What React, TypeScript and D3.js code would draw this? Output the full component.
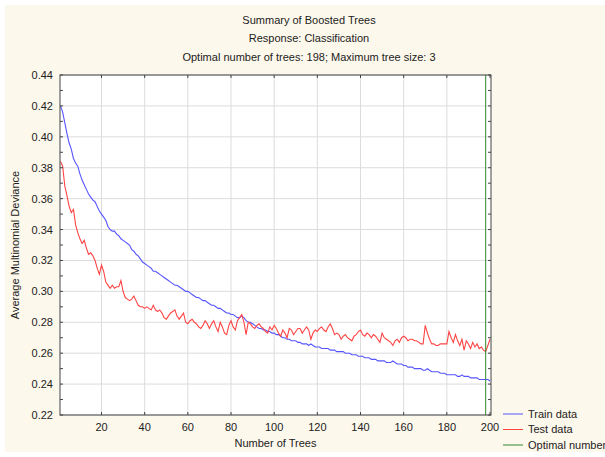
import React from 'react';
import * as d3 from 'd3';

// Average multinomial deviance per number of trees (1..200)
const trainData = [
  0.420, 0.416, 0.409, 0.402, 0.396, 0.392, 0.386, 0.383, 0.381, 0.376,
  0.372, 0.369, 0.366, 0.363, 0.361, 0.359, 0.358, 0.355, 0.352, 0.350,
  0.348, 0.346, 0.342, 0.340, 0.339, 0.339, 0.337, 0.336, 0.334, 0.333,
  0.332, 0.331, 0.330, 0.327, 0.326, 0.324, 0.323, 0.321, 0.319, 0.318,
  0.317, 0.316, 0.315, 0.313, 0.313, 0.312, 0.311, 0.310, 0.309, 0.308,
  0.307, 0.306, 0.305, 0.304, 0.304, 0.303, 0.302, 0.301, 0.300, 0.300,
  0.299, 0.298, 0.297, 0.296, 0.296, 0.295, 0.294, 0.294, 0.293, 0.292,
  0.291, 0.291, 0.290, 0.289, 0.289, 0.288, 0.287, 0.286, 0.286, 0.285,
  0.285, 0.284, 0.283, 0.283, 0.284, 0.283, 0.281, 0.280, 0.280, 0.279,
  0.278, 0.277, 0.276, 0.276, 0.275, 0.275, 0.274, 0.274, 0.273, 0.273,
  0.272, 0.272, 0.271, 0.270, 0.270, 0.269, 0.269, 0.268, 0.268, 0.268,
  0.267, 0.267, 0.266, 0.266, 0.266, 0.265, 0.266, 0.265, 0.264, 0.264,
  0.264, 0.263, 0.263, 0.263, 0.263, 0.262, 0.262, 0.262, 0.261, 0.261,
  0.261, 0.261, 0.260, 0.260, 0.260, 0.259, 0.259, 0.259, 0.258, 0.258,
  0.258, 0.257, 0.257, 0.257, 0.256, 0.256, 0.256, 0.255, 0.255, 0.255,
  0.255, 0.254, 0.254, 0.254, 0.255, 0.254, 0.253, 0.253, 0.253, 0.252,
  0.252, 0.251, 0.251, 0.251, 0.250, 0.250, 0.250, 0.250, 0.249, 0.249,
  0.250, 0.249, 0.248, 0.248, 0.248, 0.248, 0.247, 0.247, 0.247, 0.246,
  0.246, 0.246, 0.246, 0.246, 0.245, 0.245, 0.246, 0.245, 0.245, 0.245,
  0.244, 0.244, 0.244, 0.244, 0.243, 0.243, 0.243, 0.243, 0.243, 0.242,
];

const testData = [
  0.384, 0.381, 0.368, 0.362, 0.355, 0.351, 0.353, 0.343, 0.338, 0.334,
  0.331, 0.333, 0.328, 0.324, 0.325, 0.323, 0.320, 0.315, 0.311, 0.317,
  0.313, 0.306, 0.304, 0.302, 0.304, 0.302, 0.303, 0.303, 0.307, 0.300,
  0.296, 0.295, 0.294, 0.295, 0.297, 0.294, 0.291, 0.290, 0.290, 0.289,
  0.290, 0.289, 0.288, 0.291, 0.288, 0.287, 0.288, 0.286, 0.283, 0.282,
  0.284, 0.286, 0.287, 0.288, 0.284, 0.282, 0.284, 0.286, 0.280, 0.279,
  0.281, 0.282, 0.280, 0.279, 0.277, 0.276, 0.278, 0.281, 0.279, 0.276,
  0.279, 0.281, 0.277, 0.274, 0.280, 0.277, 0.273, 0.272, 0.278, 0.281,
  0.277, 0.275, 0.281, 0.283, 0.285, 0.280, 0.272, 0.280, 0.279, 0.277,
  0.276, 0.278, 0.279, 0.277, 0.276, 0.274, 0.273, 0.277, 0.275, 0.278,
  0.276, 0.273, 0.271, 0.275, 0.273, 0.270, 0.276, 0.275, 0.272, 0.274,
  0.276, 0.276, 0.273, 0.275, 0.277, 0.275, 0.269, 0.273, 0.275, 0.274,
  0.276, 0.277, 0.275, 0.274, 0.277, 0.279, 0.276, 0.272, 0.273, 0.272,
  0.269, 0.271, 0.272, 0.270, 0.269, 0.268, 0.271, 0.272, 0.274, 0.275,
  0.272, 0.271, 0.273, 0.272, 0.270, 0.272, 0.271, 0.269, 0.267, 0.273,
  0.270, 0.269, 0.268, 0.267, 0.265, 0.268, 0.269, 0.267, 0.270, 0.271,
  0.270, 0.268, 0.269, 0.269, 0.268, 0.268, 0.267, 0.266, 0.266, 0.278,
  0.273, 0.269, 0.266, 0.266, 0.265, 0.265, 0.266, 0.266, 0.266, 0.266,
  0.274, 0.270, 0.267, 0.272, 0.268, 0.265, 0.269, 0.262, 0.268, 0.266,
  0.263, 0.267, 0.264, 0.266, 0.263, 0.264, 0.262, 0.261, 0.265, 0.269,
];

const titleLines = [
  'Summary of Boosted Trees',
  'Response: Classification',
  'Optimal number of trees: 198; Maximum tree size: 3',
];
const xTicks = [20, 40, 60, 80, 100, 120, 140, 160, 180, 200];
const yTicks = [0.22, 0.24, 0.26, 0.28, 0.30, 0.32, 0.34, 0.36, 0.38, 0.40, 0.42, 0.44];
const yMinor = [0.23, 0.25, 0.27, 0.29, 0.31, 0.33, 0.35, 0.37, 0.39, 0.41, 0.43];
const optimalTrees = 198;
const legendItems = [
  { label: 'Train data', color: '#5555ff' },
  { label: 'Test data', color: '#ff4444' },
  { label: 'Optimal number', color: '#2e8b2e' },
];

const W = 605;
const H = 457;
const left = 60, right = 491, top = 75, bottom = 415;
const font = 'Arial, "Liberation Sans", sans-serif';

export default function App() {
  const x = d3.scaleLinear().domain([1, 200]).range([60.5, 490]);
  const y = d3.scaleLinear().domain([0.22, 0.44]).range([bottom, top]);
  const line = d3.line<number>()
    .x((d, i) => x(i + 1))
    .y(d => y(d));

  return (
    <svg width={W} height={H} style={{ position: 'absolute', left: 0, top: 0 }}
      fontFamily={font} fontSize={11} fill="#222">
      <rect x={0} y={0} width={W} height={H} fill="#fff" />
      <rect x={5} y={5} width={W - 5} height={447} fill="#fdf8ec" />
      {titleLines.map((t, i) => (
        <text key={t} x={309} y={23.5 + i * 18.5} textAnchor="middle">{t}</text>
      ))}
      <rect x={left} y={top} width={right - left} height={bottom - top} fill="#fff" />
      {/* grid */}
      {xTicks.filter(t => t < 200).map(t => (
        <line key={'gx' + t} x1={x(t)} x2={x(t)} y1={top} y2={bottom} stroke="#dcdcdc" />
      ))}
      {yTicks.map(t => (
        <line key={'gy' + t} x1={left} x2={right} y1={y(t)} y2={y(t)} stroke="#dcdcdc" />
      ))}
      {/* series */}
      <path d={line(trainData) ?? ''} fill="none" stroke="#5555ff" strokeWidth={1.1} />
      <path d={line(testData) ?? ''} fill="none" stroke="#ff4444" strokeWidth={1.1} />
      <line x1={x(optimalTrees)} x2={x(optimalTrees)} y1={top} y2={bottom} stroke="#2e8b2e" strokeWidth={1} />
      {/* frame with inner ticks */}
      <rect x={left} y={top} width={right - left} height={bottom - top} fill="none" stroke="#444" />
      {[...yTicks, ...yMinor].map(t => (
        <g key={'ty' + t} stroke="#444">
          <line x1={left} x2={left + 3} y1={y(t)} y2={y(t)} />
          <line x1={right - 3} x2={right} y1={y(t)} y2={y(t)} />
        </g>
      ))}
      {xTicks.map(t => (
        <g key={'tx' + t} stroke="#444">
          <line x1={x(t)} x2={x(t)} y1={top} y2={top + 3} />
          <line x1={x(t)} x2={x(t)} y1={bottom - 3} y2={bottom} />
        </g>
      ))}
      {/* tick labels */}
      {yTicks.map(t => (
        <text key={'ly' + t} x={53} y={y(t) + 4} textAnchor="end">{t.toFixed(2)}</text>
      ))}
      {xTicks.map(t => (
        <text key={'lx' + t} x={x(t)} y={431} textAnchor="middle">{t}</text>
      ))}
      <text x={(left + right) / 2} y={447} textAnchor="middle">Number of Trees</text>
      <text transform={`translate(19,${(top + bottom) / 2}) rotate(-90)`} textAnchor="middle">
        Average Multinomial Deviance
      </text>
      {/* legend */}
      {legendItems.map((d, i) => (
        <g key={d.label}>
          <line x1={503} x2={523} y1={414 + i * 15.5} y2={414 + i * 15.5} stroke={d.color} />
          <text x={528} y={417.5 + i * 15.5}>{d.label}</text>
        </g>
      ))}
    </svg>
  );
}
